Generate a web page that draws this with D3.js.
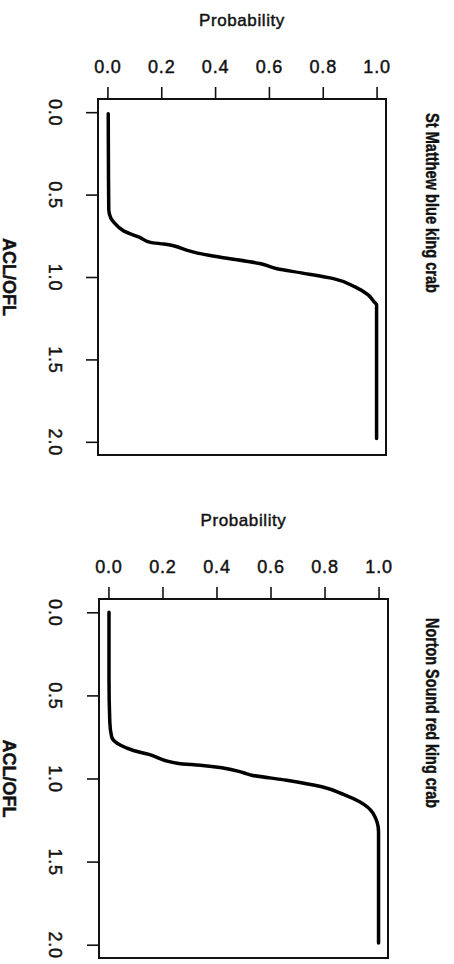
<!DOCTYPE html>
<html>
<head>
<meta charset="utf-8">
<script src="https://cdn.jsdelivr.net/npm/d3@7"></script>
<style>
  body { margin: 0; background: #fff; }
  text { font-family: "Liberation Sans", Arial, sans-serif; fill: #111; stroke: #111; stroke-width: 0.45px; }
</style>
</head>
<body>
<div class="chart"></div>
<script>
// Data (ACL/OFL ratio vs cumulative probability)
var titles = ["St Matthew blue king crab", "Norton Sound red king crab"];

var probTicks = [0, 0.2, 0.4, 0.6, 0.8, 1.0];
var aclTicks = [0, 0.5, 1.0, 1.5, 2.0];

var smbkcAcl = [0.01, 0.40, 0.59, 0.64, 0.67, 0.72, 0.76, 0.79, 0.80, 0.84, 0.855, 0.88, 0.92, 0.95, 0.975, 1.01, 1.06, 1.11, 1.15, 1.17, 1.38, 1.98];
var smbkcProb = [0.003, 0.004, 0.005, 0.012, 0.025, 0.06, 0.12, 0.16, 0.21, 0.30, 0.335, 0.42, 0.57, 0.63, 0.72, 0.84, 0.92, 0.97, 0.99, 1.0, 1.0, 1.0];

var nsrkcAcl = [0.0, 0.40, 0.66, 0.75, 0.80, 0.83, 0.855, 0.91, 0.92, 0.965, 0.98, 1.01, 1.05, 1.095, 1.14, 1.21, 1.32, 1.99];
var nsrkcProb = [0.002, 0.002, 0.005, 0.012, 0.045, 0.09, 0.15, 0.26, 0.34, 0.50, 0.53, 0.66, 0.79, 0.87, 0.93, 0.98, 1.0, 1.0];

var svgWidth = 454;
var svgHeight = 964;

var svg = d3
  .select(".chart")
  .append("svg")
  .attr("width", svgWidth)
  .attr("height", svgHeight);

// panel boxes: left, right, top, bottom (the plot is drawn rotated 90 degrees)
var panels = [
  { title: titles[0], acl: smbkcAcl, prob: smbkcProb, left: 98, right: 386, top: 99, bottom: 455, titleY: 113, titleLen: 180 },
  { title: titles[1], acl: nsrkcAcl, prob: nsrkcProb, left: 99, right: 388, top: 599, bottom: 958, titleY: 618, titleLen: 190 }
];

panels.forEach(function(p) {
  var chart = svg.append("g");

  // probability runs left -> right, ACL/OFL runs top -> bottom
  var xScale = d3.scaleLinear().domain([-0.035, 1.035]).range([p.left, p.right]);
  var yScale = d3.scaleLinear().domain([-0.08, 2.08]).range([p.top, p.bottom]);

  var topAxis = d3.axisTop(xScale)
    .tickValues(probTicks)
    .tickFormat(d3.format(".1f"))
    .tickSize(12)
    .tickPadding(14);

  var leftAxis = d3.axisLeft(yScale)
    .tickValues(aclTicks)
    .tickFormat(d3.format(".1f"))
    .tickSize(12);

  var gTop = chart.append("g")
    .attr("transform", "translate(0," + p.top + ")")
    .call(topAxis);
  gTop.select(".domain").remove();
  gTop.selectAll("line").attr("stroke", "#111").attr("stroke-width", 1.6);
  gTop.selectAll("text")
    .attr("fill", "#111")
    .style("font-size", "18px")
    .style("letter-spacing", "0.8px")
    .style("font-family", "Liberation Sans, Arial, sans-serif");

  var gLeft = chart.append("g")
    .attr("transform", "translate(" + p.left + ",0)")
    .call(leftAxis);
  gLeft.select(".domain").remove();
  gLeft.selectAll("line").attr("stroke", "#111").attr("stroke-width", 1.6);
  // tick labels turned to read top to bottom
  gLeft.selectAll("text")
    .attr("x", null)
    .attr("dy", null)
    .attr("fill", "#111")
    .attr("text-anchor", "middle")
    .attr("transform", "translate(" + (49 - p.left) + ",0) rotate(90)")
    .style("font-size", "18px")
    .style("letter-spacing", "0.8px")
    .style("font-family", "Liberation Sans, Arial, sans-serif");

  // frame
  chart.append("rect")
    .attr("x", p.left)
    .attr("y", p.top)
    .attr("width", p.right - p.left)
    .attr("height", p.bottom - p.top)
    .attr("fill", "none")
    .attr("stroke", "#111")
    .attr("stroke-width", 2);

  // cumulative curve
  var points = p.acl.map(function(a, i) { return [p.prob[i], a]; });
  var line = d3.line()
    .x(function(d) { return xScale(d[0]); })
    .y(function(d) { return yScale(d[1]); })
    .curve(d3.curveMonotoneY);

  chart.append("path")
    .datum(points)
    .attr("d", line)
    .attr("fill", "none")
    .attr("stroke", "#000")
    .attr("stroke-width", 3.5)
    .attr("stroke-linejoin", "round")
    .attr("stroke-linecap", "round");

  // axis titles
  chart.append("text")
    .attr("x", (xScale(0) + xScale(1)) / 2)
    .attr("y", p.top - 73)
    .attr("text-anchor", "middle")
    .style("font-size", "17px")
    .style("letter-spacing", "0.6px")
    .text("Probability");

  chart.append("text")
    .attr("transform", "translate(3," + yScale(1) + ") rotate(90)")
    .attr("text-anchor", "middle")
    .style("font-size", "18px")
    .style("font-weight", "bold")
    .text("ACL/OFL");

  // panel title on the right (narrow, as in the source figure)
  chart.append("text")
    .attr("transform", "translate(426," + p.titleY + ") rotate(90)")
    .attr("text-anchor", "start")
    .attr("textLength", p.titleLen)
    .attr("lengthAdjust", "spacingAndGlyphs")
    .style("font-size", "19px")
    .style("font-weight", "bold")
    .text(p.title);
});
</script>
</body>
</html>
